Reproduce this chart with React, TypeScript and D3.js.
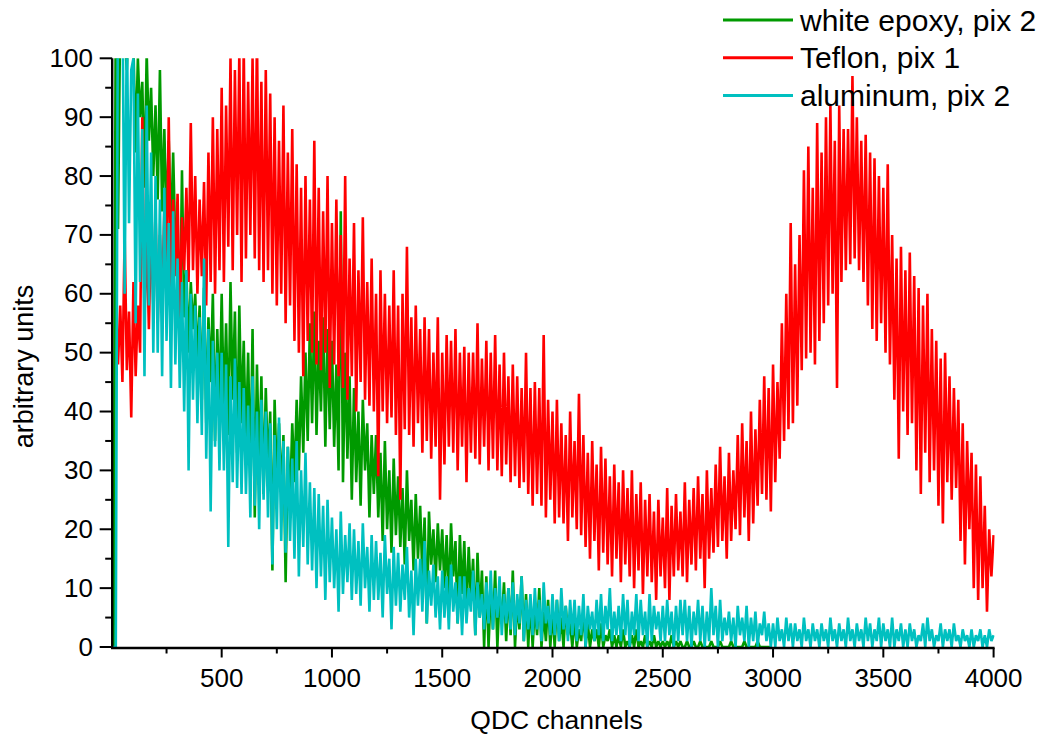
import React from "react";
import * as d3 from "d3";

// ---------------- data ----------------
const CHANNEL_STEP = 10;

// white epoxy, pix 2 — values from channel 0, every 10 channels
const epoxyStart = 0;
const epoxyValues: number[] = [
  0, 0, 112, 71, 108, 115, 104, 98, 110, 106,
  102, 84, 100, 90, 96, 78, 101, 86, 95, 80,
  92, 76, 98, 74, 88, 72, 86, 70, 84, 68,
  66, 52, 81, 56, 64, 50, 62, 54, 60, 48,
  58, 42, 61, 38, 56, 45, 60, 35, 54, 40,
  60, 40, 55, 36, 62, 42, 57, 33, 58, 38,
  52, 34, 50, 28, 54, 22, 48, 30, 46, 26,
  44, 30, 40, 13, 42, 28, 38, 26, 36, 11,
  34, 24, 38, 28, 42, 30, 46, 33, 50, 35,
  55, 38, 57, 36, 52, 40, 56, 34, 54, 37,
  52, 34, 48, 30, 74, 28, 50, 32, 46, 25,
  44, 28, 40, 24, 42, 30, 38, 22, 36, 26,
  36, 22, 33, 18, 35, 20, 30, 16, 32, 19,
  29, 17, 27, 14, 30, 18, 25, 13, 26, 15,
  24, 12, 22, 4, 23, 14, 20, 11, 21, 13,
  20, 10, 19, 8, 21, 12, 18, 4, 19, 9,
  18, 6, 17, 8, 15, 2, 16, 5, 13, 0,
  12, 0, 10, 3, 13, 0, 9, 4, 11, 1,
  10, 2, 13, 0, 8, 3, 12, 1, 9, 0,
  8, 0, 7, 2, 10, 0, 6, 1, 8, 0,
  6, 0, 8, 1, 5, 0, 7, 2, 4, 0,
  5, 0, 3, 1, 6, 0, 4, 0, 3, 1,
  3, 0, 4, 0, 2, 1, 3, 0, 2, 0,
  2, 0, 3, 0, 1, 0, 2, 0, 3, 0,
  1, 0, 2, 0, 1, 0, 2, 0, 1, 0,
  1, 0, 1, 0, 2, 0, 1, 0, 1, 0,
  0, 1, 0, 0, 1, 0, 0, 1, 0, 0,
  0, 0, 1, 0, 0, 0, 1, 0, 0, 0,
  0, 1, 0, 0, 0, 0, 0, 1, 0, 0,
  0, 0, 0, 1, 0, 0, 0, 0, 0, 0,
];

// Teflon, pix 1 — values from channel 30, every 10 channels
const teflonStart = 30;
const teflonValues: number[] = [
  48, 58, 45, 70, 47, 57, 39, 62, 46, 58,
  50, 90, 56, 70, 54, 72, 58, 74, 55, 70,
  60, 74, 62, 90, 61, 76, 63, 77, 56, 73,
  64, 78, 62, 89, 64, 80, 60, 76, 63, 79,
  58, 84, 62, 90, 60, 88, 64, 95, 62, 92,
  68, 100, 64, 98, 70, 101, 62, 102, 66, 96,
  70, 100, 66, 104, 64, 96, 62, 98, 64, 94,
  60, 90, 58, 86, 60, 92, 55, 84, 58, 88,
  52, 82, 50, 78, 46, 80, 52, 76, 50, 86,
  48, 78, 47, 74, 50, 80, 44, 72, 48, 76,
  46, 70, 44, 80, 42, 66, 46, 72, 40, 64,
  45, 73, 42, 62, 41, 66, 40, 60, 29, 64,
  40, 60, 38, 58, 39, 64, 36, 58, 25, 60,
  37, 68, 36, 56, 34, 58, 38, 54, 33, 56,
  35, 54, 32, 50, 34, 56, 25, 50, 31, 53,
  34, 52, 33, 54, 30, 50, 34, 51, 28, 50,
  33, 50, 32, 55, 31, 49, 34, 52, 30, 50,
  32, 53, 30, 48, 29, 50, 31, 46, 28, 48,
  29, 46, 27, 44, 28, 50, 26, 44, 24, 45,
  26, 44, 24, 53, 22, 42, 25, 40, 21, 42,
  22, 38, 21, 36, 18, 40, 22, 35, 20, 43,
  19, 36, 17, 33, 15, 35, 18, 31, 13, 34,
  16, 32, 14, 29, 12, 31, 15, 28, 11, 30,
  14, 27, 12, 30, 10, 26, 13, 28, 9, 25,
  12, 26, 11, 23, 8, 25, 12, 22, 10, 27,
  8, 24, 12, 26, 13, 23, 12, 28, 11, 25,
  14, 27, 13, 29, 15, 26, 10, 30, 15, 27,
  16, 31, 17, 34, 18, 29, 15, 33, 18, 30,
  20, 36, 19, 38, 22, 35, 18, 40, 21, 37,
  24, 42, 26, 46, 25, 44, 23, 48, 28, 45,
  32, 55, 35, 60, 37, 72, 38, 65, 41, 70,
  47, 81, 49, 85, 50, 78, 48, 89, 52, 84,
  55, 90, 58, 92, 60, 86, 44, 92, 62, 88,
  64, 88, 65, 97, 66, 90, 64, 86, 62, 87,
  58, 84, 54, 83, 52, 80, 55, 78, 50, 82,
  48, 70, 42, 66, 32, 68, 40, 64, 36, 67,
  38, 63, 30, 61, 26, 58, 33, 60, 28, 54,
  30, 52, 24, 49, 21, 50, 28, 46, 25, 44,
  27, 42, 18, 38, 14, 35, 20, 33, 10, 31,
  8, 29, 10, 24, 6, 20, 12, 19,
];

// aluminum, pix 2 — values from channel 0, every 10 channels
const aluminumStart = 0;
const aluminumValues: number[] = [
  0, 0, 0, 118, 108, 112, 60, 106, 72, 98,
  100, 55, 94, 62, 88, 46, 92, 58, 84, 50,
  80, 50, 76, 46, 78, 52, 72, 44, 74, 48,
  66, 44, 62, 40, 64, 30, 60, 42, 58, 38,
  56, 36, 66, 32, 54, 23, 52, 34, 50, 30,
  50, 30, 48, 17, 46, 28, 49, 27, 45, 26,
  44, 26, 41, 22, 46, 24, 40, 20, 42, 25,
  40, 22, 38, 14, 36, 20, 39, 18, 35, 16,
  34, 18, 32, 15, 35, 12, 30, 17, 33, 14,
  28, 13, 27, 10, 26, 12, 24, 8, 25, 11,
  22, 10, 20, 6, 23, 9, 19, 11, 21, 8,
  20, 9, 18, 7, 21, 10, 17, 6, 19, 8,
  18, 8, 16, 5, 19, 9, 15, 3, 17, 7,
  16, 6, 14, 8, 17, 5, 13, 2, 15, 7,
  15, 6, 18, 4, 13, 7, 14, 5, 12, 3,
  13, 5, 12, 3, 14, 6, 11, 4, 12, 2,
  12, 4, 10, 6, 13, 2, 11, 5, 9, 3,
  11, 4, 13, 3, 10, 5, 12, 2, 9, 4,
  10, 3, 11, 2, 9, 4, 12, 1, 8, 3,
  9, 2, 10, 3, 8, 1, 11, 4, 7, 2,
  9, 2, 8, 1, 10, 3, 7, 1, 8, 2,
  8, 1, 7, 2, 9, 0, 7, 3, 6, 1,
  8, 2, 9, 1, 7, 3, 10, 1, 6, 2,
  7, 1, 9, 2, 8, 0, 6, 2, 9, 1,
  8, 2, 6, 0, 9, 1, 7, 3, 6, 1,
  7, 1, 8, 2, 6, 0, 7, 1, 8, 2,
  8, 1, 7, 0, 6, 2, 8, 1, 7, 0,
  6, 1, 10, 2, 7, 0, 8, 1, 5, 2,
  6, 1, 5, 0, 7, 2, 5, 1, 7, 0,
  5, 1, 6, 0, 4, 2, 6, 1, 4, 0,
  4, 0, 5, 1, 3, 0, 5, 1, 4, 0,
  4, 1, 3, 0, 5, 1, 3, 0, 4, 1,
  3, 0, 4, 1, 3, 0, 5, 1, 3, 0,
  4, 1, 3, 0, 5, 1, 3, 0, 4, 1,
  3, 0, 5, 1, 4, 0, 3, 1, 5, 0,
  4, 1, 3, 0, 5, 0, 3, 1, 4, 0,
  3, 0, 4, 1, 3, 0, 2, 1, 4, 0,
  5, 1, 3, 0, 2, 1, 4, 0, 3, 1,
  3, 0, 4, 1, 2, 0, 3, 1, 2, 0,
  3, 0, 2, 1, 3, 0, 2, 0, 3, 1,
  2,
];

const seriesNames = ["white epoxy, pix 2", "Teflon, pix 1", "aluminum, pix 2"];
const seriesColors = ["#009a00", "#ff0000", "#00c0c0"];

const xDomain: [number, number] = [0, 4000];
const yDomain: [number, number] = [0, 100];
const xMajorTicks = [500, 1000, 1500, 2000, 2500, 3000, 3500, 4000];
const xMinorTicks = [250, 750, 1250, 1750, 2250, 2750, 3250, 3750];
const yMajorTicks = [0, 10, 20, 30, 40, 50, 60, 70, 80, 90, 100];
const yMinorTicks = [5, 15, 25, 35, 45, 55, 65, 75, 85, 95];
const xTitle = "QDC channels";
const yTitle = "arbitrary units";

// ---------------- layout ----------------
const W = 1044;
const H = 735;
const FONT = '"Liberation Sans", Arial, Helvetica, sans-serif';
const PLOT_LEFT = 111.4;
const PLOT_RIGHT = 993.6;
const PLOT_TOP = 58.3;
const PLOT_BOTTOM = 647;

export default function App() {
  const x = d3.scaleLinear().domain(xDomain).range([PLOT_LEFT, PLOT_RIGHT]);
  const y = d3.scaleLinear().domain(yDomain).range([PLOT_BOTTOM, PLOT_TOP]);

  const series = [
    { name: seriesNames[0], color: seriesColors[0], start: epoxyStart, values: epoxyValues },
    { name: seriesNames[1], color: seriesColors[1], start: teflonStart, values: teflonValues },
    { name: seriesNames[2], color: seriesColors[2], start: aluminumStart, values: aluminumValues },
  ];

  const pathFor = (start: number, values: number[]) =>
    d3
      .line<number>()
      .x((_, i) => x(start + i * CHANNEL_STEP))
      .y((d) => y(d))(values) || "";

  const axisY = PLOT_BOTTOM + 1;
  const axisX = PLOT_LEFT + 0.8;

  return (
    <svg
      width={W}
      height={H}
      viewBox={`0 0 ${W} ${H}`}
      style={{ position: "absolute", left: 0, top: 0, background: "#fff" }}
      fontFamily={FONT}
    >
      <defs>
        <clipPath id="plotClip">
          <rect x={PLOT_LEFT} y={PLOT_TOP} width={PLOT_RIGHT - PLOT_LEFT + 1} height={PLOT_BOTTOM - PLOT_TOP + 1} />
        </clipPath>
      </defs>
      <rect x={0} y={0} width={W} height={H} fill="#fff" />

      <g clipPath="url(#plotClip)">
        {series.map((s) => (
          <path
            key={s.name}
            d={pathFor(s.start, s.values)}
            fill="none"
            stroke={s.color}
            strokeWidth={2.6}
            strokeLinejoin="bevel"
          />
        ))}
      </g>

      {/* axes */}
      <g stroke="#000" strokeWidth={2}>
        <line x1={axisX} x2={axisX} y1={y(100)} y2={axisY + 1} strokeWidth={2.4} />
        <line x1={axisX - 1.2} x2={x(4000) + 1} y1={axisY} y2={axisY} strokeWidth={2.4} />
        {yMajorTicks.map((t) => (
          <line key={"ym" + t} x1={axisX - 12.5} x2={axisX} y1={y(t)} y2={y(t)} />
        ))}
        {yMinorTicks.map((t) => (
          <line key={"yn" + t} x1={axisX - 7} x2={axisX} y1={y(t)} y2={y(t)} />
        ))}
        {xMajorTicks.map((t) => (
          <line key={"xm" + t} x1={x(t)} x2={x(t)} y1={axisY} y2={axisY + 9.5} />
        ))}
        {xMinorTicks.map((t) => (
          <line key={"xn" + t} x1={x(t)} x2={x(t)} y1={axisY} y2={axisY + 5.5} />
        ))}
      </g>

      <g fontSize={26} fill="#000">
        {yMajorTicks.map((t) => (
          <text key={"yl" + t} x={93} y={y(t) + 8.5} textAnchor="end">
            {t}
          </text>
        ))}
        {xMajorTicks.map((t) => (
          <text key={"xl" + t} x={x(t)} y={687} textAnchor="middle">
            {t}
          </text>
        ))}
      </g>

      <text x={556.5} y={728.5} fontSize={26.5} textAnchor="middle" fill="#000">
        {xTitle}
      </text>
      <text
        transform={`translate(33.3, 366.5) rotate(-90)`}
        fontSize={27}
        textAnchor="middle"
        fill="#000"
      >
        {yTitle}
      </text>

      {/* legend */}
      <g>
        {series.map((s, i) => {
          const ly = 20 + i * 37.8;
          return (
            <g key={"lg" + s.name}>
              <line x1={723} x2={793} y1={ly} y2={ly} stroke={s.color} strokeWidth={3} />
              <text x={800} y={ly + 10.5} fontSize={30} fill="#000">
                {s.name}
              </text>
            </g>
          );
        })}
      </g>
    </svg>
  );
}
